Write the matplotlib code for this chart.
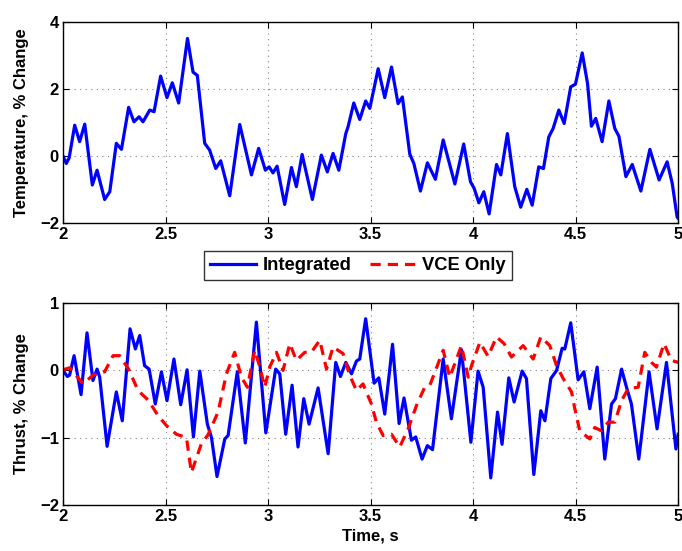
import numpy as np
import matplotlib.pyplot as plt

plt.rcParams['font.family'] = ['Liberation Sans', 'DejaVu Sans']
plt.rcParams['font.weight'] = 'bold'

# temperature, integrated controller
t_temp = [2.0, 2.016, 2.03, 2.057, 2.081, 2.106, 2.143, 2.166, 2.203, 2.228, 2.26, 2.285,
          2.32, 2.346, 2.371, 2.39, 2.423, 2.444, 2.476, 2.507, 2.533, 2.564, 2.607, 2.634,
          2.655, 2.691, 2.715, 2.745, 2.769, 2.813, 2.862, 2.919, 2.954, 2.987, 3.005, 3.024,
          3.044, 3.081, 3.114, 3.138, 3.166, 3.216, 3.26, 3.289, 3.317, 3.345, 3.379, 3.39,
          3.418, 3.447, 3.476, 3.496, 3.537, 3.569, 3.602, 3.634, 3.655, 3.691, 3.711, 3.743,
          3.777, 3.816, 3.854, 3.911, 3.954, 3.987, 4.005, 4.028, 4.052, 4.078, 4.114, 4.135,
          4.167, 4.203, 4.232, 4.262, 4.288, 4.32, 4.343, 4.369, 4.39, 4.418, 4.444, 4.476,
          4.499, 4.532, 4.558, 4.577, 4.598, 4.629, 4.662, 4.691, 4.711, 4.745, 4.776, 4.818,
          4.862, 4.907, 4.946, 4.971, 4.995, 5.0]
temp = [0.0, -0.22, -0.05, 0.92, 0.43, 0.95, -0.86, -0.42, -1.29, -1.06, 0.38, 0.2,
        1.45, 1.02, 1.17, 1.02, 1.37, 1.32, 2.38, 1.74, 2.18, 1.58, 3.5, 2.5,
        2.4, 0.38, 0.18, -0.37, -0.14, -1.18, 0.94, -0.56, 0.23, -0.42, -0.32, -0.5,
        -0.3, -1.44, -0.34, -0.91, 0.05, -1.29, 0.03, -0.47, 0.08, -0.42, 0.67, 0.87,
        1.58, 1.09, 1.64, 1.42, 2.6, 1.74, 2.65, 1.56, 1.76, 0.06, -0.22, -1.04,
        -0.2, -0.69, 0.48, -0.83, 0.36, -0.76, -0.96, -1.39, -1.06, -1.72, -0.25, -0.56,
        0.67, -0.91, -1.52, -0.99, -1.46, -0.32, -0.37, 0.57, 0.82, 1.37, 0.97, 2.06,
        2.14, 3.07, 2.16, 0.89, 1.12, 0.43, 1.64, 0.82, 0.59, -0.61, -0.25, -1.04,
        0.2, -0.71, -0.17, -0.81, -1.82, -1.85]

# thrust, integrated controller
t_int = [2.0, 2.021, 2.032, 2.054, 2.088, 2.117, 2.146, 2.166, 2.179, 2.215, 2.26, 2.289,
         2.327, 2.353, 2.374, 2.398, 2.42, 2.45, 2.48, 2.507, 2.541, 2.574, 2.605, 2.636,
         2.667, 2.704, 2.724, 2.751, 2.789, 2.805, 2.85, 2.889, 2.943, 2.989, 3.037, 3.057,
         3.086, 3.117, 3.146, 3.174, 3.2, 3.244, 3.293, 3.33, 3.353, 3.379, 3.407, 3.431,
         3.447, 3.476, 3.517, 3.54, 3.569, 3.607, 3.639, 3.663, 3.699, 3.72, 3.751, 3.777,
         3.802, 3.854, 3.894, 3.943, 3.989, 4.024, 4.049, 4.086, 4.119, 4.141, 4.174, 4.2,
         4.239, 4.26, 4.296, 4.33, 4.35, 4.379, 4.407, 4.434, 4.447, 4.476, 4.512, 4.54,
         4.569, 4.605, 4.642, 4.675, 4.694, 4.724, 4.748, 4.772, 4.808, 4.858, 4.897, 4.943,
         4.989, 5.0]
thrust_int = [0.0, -0.09, -0.07, 0.22, -0.36, 0.56, -0.15, 0.02, -0.1, -1.13, -0.32, -0.75,
              0.62, 0.32, 0.52, 0.07, 0.02, -0.5, -0.02, -0.45, 0.17, -0.51, 0.01, -0.99,
              -0.01, -0.8, -1.0, -1.58, -1.02, -0.97, -0.02, -1.08, 0.72, -0.93, 0.02, -0.05,
              -0.95, -0.22, -1.14, -0.42, -0.8, -0.26, -1.24, 0.12, -0.09, 0.12, -0.05, 0.14,
              0.17, 0.77, -0.19, -0.11, -0.65, 0.39, -0.79, -0.41, -1.04, -0.99, -1.32, -1.12,
              -1.18, 0.17, -0.72, 0.31, -1.07, -0.01, -0.25, -1.6, -0.62, -1.1, -0.11, -0.47,
              -0.01, -0.12, -1.55, -0.6, -0.75, -0.12, 0.0, 0.33, 0.32, 0.71, -0.14, -0.02,
              -0.57, 0.05, -1.32, -0.5, -0.42, 0.02, -0.25, -0.5, -1.32, -0.02, -0.87, 0.12,
              -1.17, -0.95]

# thrust, VCE only
t_vce = [2.0, 2.033, 2.098, 2.146, 2.203, 2.244, 2.276, 2.32, 2.366, 2.415, 2.463, 2.504,
         2.553, 2.602, 2.626, 2.675, 2.707, 2.756, 2.797, 2.837, 2.87, 2.899, 2.935, 2.96,
         2.984, 3.008, 3.041, 3.073, 3.106, 3.138, 3.179, 3.211, 3.252, 3.285, 3.317, 3.366,
         3.398, 3.431, 3.463, 3.504, 3.528, 3.561, 3.602, 3.642, 3.683, 3.724, 3.764, 3.789,
         3.829, 3.854, 3.886, 3.919, 3.943, 3.976, 3.992, 4.033, 4.073, 4.114, 4.151, 4.187,
         4.244, 4.293, 4.33, 4.374, 4.407, 4.439, 4.48, 4.496, 4.52, 4.569, 4.593, 4.626,
         4.659, 4.691, 4.724, 4.756, 4.805, 4.837, 4.87, 4.894, 4.931, 4.967, 5.0]
thrust_vce = [0.01, 0.04, -0.2, -0.07, -0.02, 0.22, 0.22, 0.02, -0.3, -0.44, -0.67, -0.82,
              -0.95, -1.0, -1.52, -1.09, -0.96, -0.62, -0.05, 0.27, -0.1, -0.25, 0.3, 0.05,
              -0.25, 0.05, 0.27, 0.0, 0.4, 0.15, 0.27, 0.27, 0.45, 0.02, 0.35, 0.25,
              -0.07, -0.3, -0.2, -0.5, -0.77, -0.97, -0.95, -1.14, -0.87, -0.52, -0.25, -0.22,
              0.1, 0.3, -0.1, 0.17, 0.37, -0.1, 0.07, 0.42, 0.21, 0.5, 0.4, 0.2,
              0.37, 0.17, 0.5, 0.37, 0.07, -0.12, -0.32, -0.57, -0.9, -1.02, -0.85, -0.9,
              -0.77, -0.77, -0.45, -0.27, -0.25, 0.27, 0.12, 0.05, 0.4, 0.15, 0.12]

xticks = [2, 2.5, 3, 3.5, 4, 4.5, 5]

fig = plt.figure(figsize=(6.82, 5.51), dpi=100)
ax1 = fig.add_axes([0.0924, 0.5947, 0.902, 0.366])
ax2 = fig.add_axes([0.0924, 0.084, 0.902, 0.3655])

ax1.plot(t_temp, temp, color='#0000ff', lw=2.3, solid_joinstyle='round')
l1, = ax2.plot(t_int, thrust_int, color='#0000ff', lw=2.3, solid_joinstyle='round',
               label='Integrated')
l2, = ax2.plot(t_vce, thrust_vce, color='#ff0000', lw=2.3, ls=(0, (3.2, 2.2)),
               dash_joinstyle='round', label='VCE Only')

ax1.set_ylim(-2, 4)
ax1.set_yticks([-2, 0, 2, 4])
ax2.set_ylim(-2, 1)
ax2.set_yticks([-2, -1, 0, 1])

for ax in (ax1, ax2):
    ax.set_xlim(2, 5)
    ax.set_xticks(xticks)
    ax.set_xticklabels(['2', '2.5', '3', '3.5', '4', '4.5', '5'])
    ax.grid(True, color='#808080', ls=(0, (1, 4)), lw=0.8)
    ax.tick_params(direction='in', top=True, right=True, labelsize=12, length=4, pad=3)
    for s in ax.spines.values():
        s.set_linewidth(1.0)
    for lab in ax.get_xticklabels() + ax.get_yticklabels():
        lab.set_fontweight('bold')

ax1.set_ylabel('Temperature, % Change', fontsize=12, fontweight='bold', labelpad=8)
ax2.set_ylabel('Thrust, % Change', fontsize=12, fontweight='bold', labelpad=8)
ax2.set_xlabel('Time, s', fontsize=12, fontweight='bold', labelpad=3)

leg = fig.legend(handles=[l1, l2], loc='center', bbox_to_anchor=(0.525, 0.518), ncol=2,
                 fontsize=13.2, frameon=True, fancybox=False, edgecolor='black',
                 handlelength=2.5, columnspacing=1.0, borderpad=0.35, handletextpad=0.35)
leg.get_frame().set_linewidth(1.0)
for txt in leg.get_texts():
    txt.set_fontweight('bold')

fig.savefig('out.png', dpi=100)
